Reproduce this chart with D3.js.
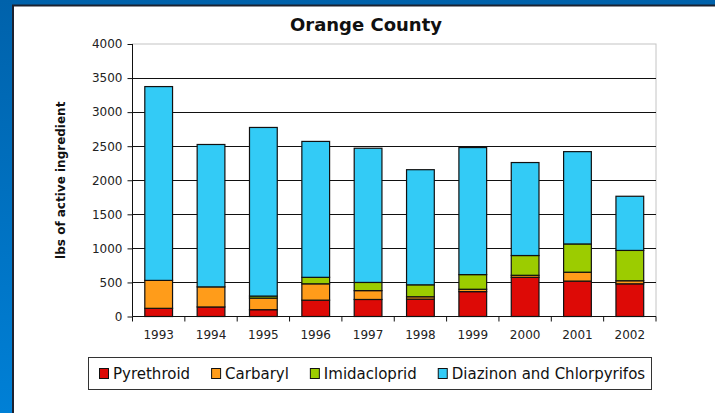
<!DOCTYPE html>
<html>
<head>
<meta charset="utf-8">
<script src="https://cdn.jsdelivr.net/npm/d3@7"></script>
<style>
  body { margin: 0; padding: 0; overflow: hidden; }
  svg { display: block; font-family: "DejaVu Sans", Verdana, sans-serif; }
</style>
</head>
<body>
<div id="chart"></div>
<script>
// data
var years = ["1993", "1994", "1995", "1996", "1997", "1998", "1999", "2000", "2001", "2002"];
var pyrethroid   = [120, 140, 100, 240, 250, 255, 365, 575, 520, 480];
var carbaryl     = [410, 295, 170, 240, 130, 35, 35, 30, 130, 45];
var imidacloprid = [0, 0, 30, 95, 120, 175, 215, 290, 415, 445];
var diazinon     = [2845, 2090, 2475, 1995, 1970, 1690, 1865, 1365, 1355, 795];
var seriesNames  = ["Pyrethroid", "Carbaryl", "Imidacloprid", "Diazinon and Chlorpyrifos"];
var yTicks = [0, 500, 1000, 1500, 2000, 2500, 3000, 3500, 4000];

var colors = ["#dd0a06", "#ff9c1a", "#9ccc00", "#33cbf6"];

var W = 715, H = 413;
var plot = { left: 132.5, right: 656, top: 44, bottom: 316.5 };

var svg = d3.select("#chart")
  .append("svg")
  .attr("width", W)
  .attr("height", H);

// blue backdrop
var defs = svg.append("defs");
var grad = defs.append("linearGradient")
  .attr("id", "bg").attr("x1", 0).attr("y1", 0).attr("x2", 0).attr("y2", 1);
grad.append("stop").attr("offset", "0%").attr("stop-color", "#0062ab");
grad.append("stop").attr("offset", "100%").attr("stop-color", "#0080d6");

svg.append("rect").attr("width", W).attr("height", H).attr("fill", "url(#bg)");
svg.append("rect")
  .attr("x", 13).attr("y", 5.5)
  .attr("width", W).attr("height", H)
  .attr("fill", "#fff")
  .attr("stroke", "#1c2230").attr("stroke-width", 2);

// stacking
var table = years.map(function (yr, i) {
  return { year: yr, p: pyrethroid[i], c: carbaryl[i], im: imidacloprid[i], d: diazinon[i] };
});
var stack = d3.stack().keys(["p", "c", "im", "d"]);
var layers = stack(table);

var x = d3.scaleBand()
  .domain(years)
  .range([plot.left, plot.right])
  .paddingInner(0.47)
  .paddingOuter(0.235);

var y = d3.scaleLinear()
  .domain([0, 4000])
  .range([plot.bottom, plot.top]);

// plot frame (grey top/right)
svg.append("rect")
  .attr("x", plot.left).attr("y", y(4000))
  .attr("width", plot.right - plot.left).attr("height", y(0) - y(4000))
  .attr("fill", "none")
  .attr("stroke", "#c4c4c4");

// gridlines
svg.append("g")
  .selectAll("line")
  .data(yTicks.filter(function (t) { return t > 0 && t < 4000; }))
  .join("line")
  .attr("x1", plot.left).attr("x2", plot.right)
  .attr("y1", function (d) { return Math.round(y(d)) + 0.5; })
  .attr("y2", function (d) { return Math.round(y(d)) + 0.5; })
  .attr("stroke", "#111");

// bars
svg.append("g")
  .selectAll("g")
  .data(layers)
  .join("g")
  .attr("fill", function (d, i) { return colors[i]; })
  .selectAll("rect")
  .data(function (d) { return d; })
  .join("rect")
  .attr("x", function (d) { return x(d.data.year); })
  .attr("y", function (d) { return y(d[1]); })
  .attr("width", x.bandwidth())
  .attr("height", function (d) { return y(d[0]) - y(d[1]); })
  .attr("stroke", "#111")
  .attr("stroke-width", 1.2);

// y axis
var yAxis = svg.append("g")
  .attr("transform", "translate(" + plot.left + ",0)")
  .call(d3.axisLeft(y).tickValues(yTicks).tickSize(5).tickPadding(5).tickFormat(d3.format("d")));
yAxis.selectAll("path, line").attr("stroke", "#111");
yAxis.select(".domain").attr("d", "M0," + y(4000) + "V" + y(0));
yAxis.selectAll("text")
  .attr("font-size", "12px")
  .attr("font-family", "DejaVu Sans, Verdana, sans-serif")
  .attr("fill", "#222");

// x axis
var xAxis = svg.append("g")
  .attr("transform", "translate(0," + plot.bottom + ")")
  .call(d3.axisBottom(x).tickSize(0).tickPadding(14));
xAxis.select(".domain").attr("stroke", "#111").attr("d", "M" + plot.left + ",0H" + plot.right);
xAxis.selectAll("text")
  .attr("font-size", "12px")
  .attr("font-family", "DejaVu Sans, Verdana, sans-serif")
  .attr("fill", "#222");
xAxis.selectAll(".tick line").remove();

// ticks between categories
xAxis.append("g")
  .selectAll("line")
  .data(d3.range(years.length + 1))
  .join("line")
  .attr("x1", function (i) { return plot.left + i * x.step(); })
  .attr("x2", function (i) { return plot.left + i * x.step(); })
  .attr("y1", 0).attr("y2", 5)
  .attr("stroke", "#111");

// title
svg.append("text")
  .attr("x", 366).attr("y", 31)
  .attr("text-anchor", "middle")
  .attr("font-size", "18px")
  .attr("font-weight", "bold")
  .attr("fill", "#111")
  .text("Orange County");

// y label
svg.append("text")
  .attr("transform", "translate(65," + ((plot.top + plot.bottom) / 2) + ") rotate(-90)")
  .attr("text-anchor", "middle")
  .attr("font-size", "12px")
  .attr("font-weight", "bold")
  .attr("fill", "#111")
  .text("lbs of active ingredient");

// legend
var legend = svg.append("g");
legend.append("rect")
  .attr("x", 88.5).attr("y", 357.5)
  .attr("width", 563).attr("height", 32)
  .attr("fill", "#fff")
  .attr("stroke", "#333");

var lx = 99;
seriesNames.forEach(function (name, i) {
  legend.append("rect")
    .attr("x", lx + 0.5).attr("y", 368.5)
    .attr("width", 9).attr("height", 10)
    .attr("fill", colors[i])
    .attr("stroke", "#111");
  var t = legend.append("text")
    .attr("x", lx + 14).attr("y", 379)
    .attr("font-size", "15px")
    .attr("fill", "#111")
    .text(name);
  lx += 14 + t.node().getComputedTextLength() + 21;
});
</script>
</body>
</html>
